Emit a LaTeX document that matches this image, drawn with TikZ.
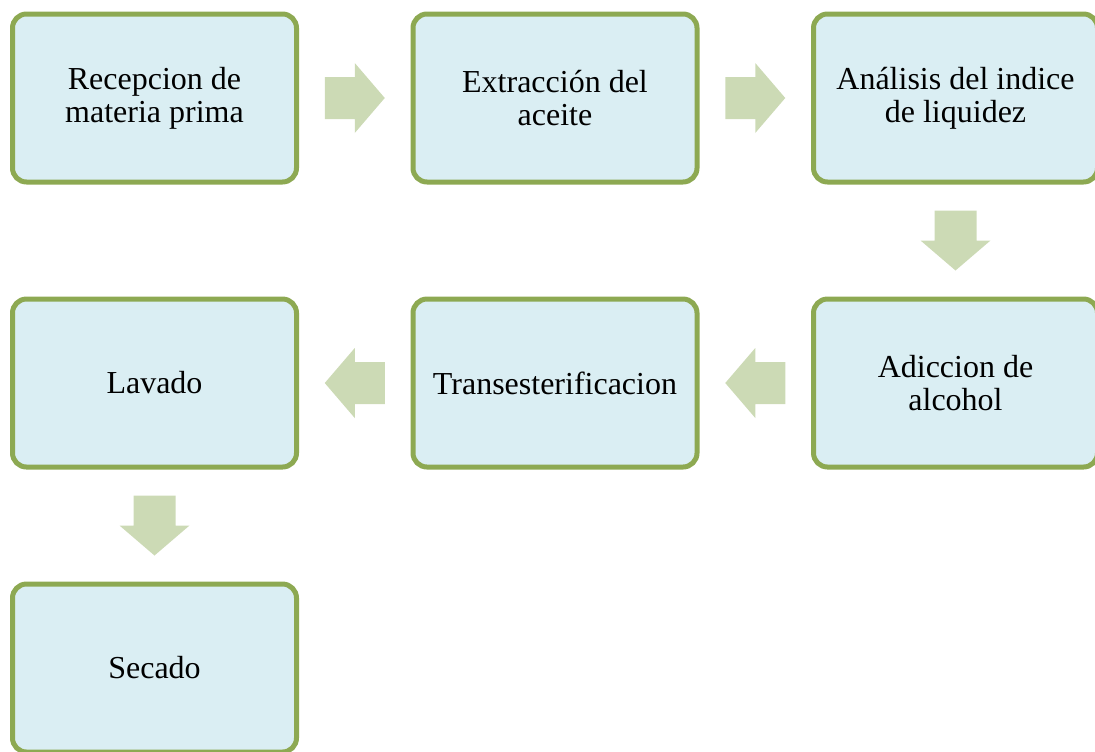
\documentclass[tikz,border=0pt]{standalone}
\usepackage{fontspec}
\setmainfont{Liberation Serif}
\usetikzlibrary{calc}
\definecolor{boxline}{HTML}{8DA952}
\definecolor{boxfill}{HTML}{DAEEF3}
\definecolor{arrowfill}{HTML}{CCDAB5}
\tikzset{
    stepbox/.style={draw=boxline, fill=boxfill, line width=2.5pt, rounded corners=7pt,
        minimum width=142pt, minimum height=84pt, inner sep=0pt, align=center,
        font=\fontsize{16pt}{16.5pt}\selectfont},
    blockarrow/.pic={
        \fill[arrowfill] (-30,-21) -- (0,-21) -- (0,-35) -- (30,0) -- (0,35) -- (0,21) -- (-30,21) -- cycle;
    }
}
\begin{document}
\begin{tikzpicture}[x=0.5pt,y=-0.5pt]
        % Fix picture size
        \clip (0,0) rectangle (1095,751);
        % Draw first row
        \node[stepbox] (recep) at (154.5,98) {Recepcion de\\materia prima};
        \node[stepbox] (extrac) at (555,98) {Extracción del\\aceite};
        \node[stepbox] (analisis) at (955.5,98) {Análisis del indice\\de liquidez};
        % Draw second row
        \node[stepbox] (adic) at (955.5,383) {Adiccion de\\alcohol};
        \node[stepbox] (trans) at (555,383) {Transesterificacion};
        \node[stepbox] (lavado) at (154.5,383) {Lavado};
        % Draw third row
        \node[stepbox] (secado) at (154.5,668) {Secado};
        % Draw arrows
        \pic at ($(recep.east)!0.5!(extrac.west)$) {blockarrow};
        \pic at ($(extrac.east)!0.5!(analisis.west)$) {blockarrow};
        \pic[rotate=-90] at ($(analisis.south)!0.5!(adic.north)$) {blockarrow};
        \pic[rotate=180] at ($(adic.west)!0.5!(trans.east)$) {blockarrow};
        \pic[rotate=180] at ($(trans.west)!0.5!(lavado.east)$) {blockarrow};
        \pic[rotate=-90] at ($(lavado.south)!0.5!(secado.north)$) {blockarrow};
    \end{tikzpicture}
\end{document}
